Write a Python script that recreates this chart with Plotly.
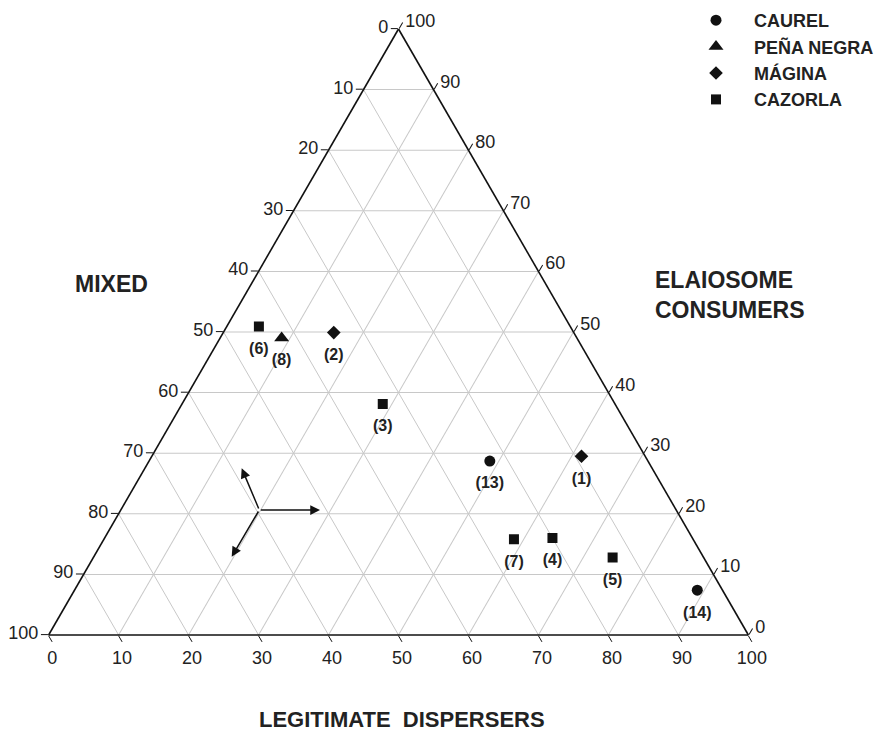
import plotly.graph_objects as go

# ---------------- data (percentages) ----------------
series_names = ["CAUREL", "PEÑA NEGRA", "MÁGINA", "CAZORLA"]

caurel_ids = ["(13)", "(14)"]
caurel_legitimate = [48.7, 89.0]
caurel_elaiosome = [28.7, 7.4]
caurel_mixed = [22.6, 3.6]

pena_ids = ["(8)"]
pena_legitimate = [8.8]
pena_elaiosome = [49.0]
pena_mixed = [42.2]

magina_ids = ["(1)", "(2)"]
magina_legitimate = [61.4, 15.8]
magina_elaiosome = [29.5, 49.9]
magina_mixed = [9.1, 34.3]

cazorla_ids = ["(3)", "(4)", "(5)", "(6)", "(7)"]
cazorla_legitimate = [28.7, 64.0, 74.2, 4.6, 58.6]
cazorla_elaiosome = [38.1, 16.0, 12.8, 50.9, 15.8]
cazorla_mixed = [33.2, 20.0, 13.0, 44.5, 25.6]

tick_values = [0, 10, 20, 30, 40, 50, 60, 70, 80, 90, 100]
tick_labels = ["100", "90", "80", "70", "60", "50", "40", "30", "20", "10", "0"]

# ---------------- styling ----------------
FONT = "Liberation Sans, Arial, sans-serif"
symbols = {"CAUREL": ("circle", 11), "PEÑA NEGRA": ("triangle-up", 13),
           "MÁGINA": ("diamond", 10.5), "CAZORLA": ("square", 10)}

groups = [
    ("CAUREL", caurel_ids, caurel_legitimate, caurel_elaiosome, caurel_mixed),
    ("PEÑA NEGRA", pena_ids, pena_legitimate, pena_elaiosome, pena_mixed),
    ("MÁGINA", magina_ids, magina_legitimate, magina_elaiosome, magina_mixed),
    ("CAZORLA", cazorla_ids, cazorla_legitimate, cazorla_elaiosome, cazorla_mixed),
]

fig = go.Figure()

all_ids, all_l, all_e, all_m = [], [], [], []
for name, ids, leg, ela, mix in groups:
    sym, size = symbols[name]
    # a = elaiosome (top), b = mixed (bottom-left), c = legitimate (bottom-right)
    fig.add_trace(go.Scatterternary(
        a=ela, b=mix, c=leg, mode="markers", name=name,
        marker=dict(symbol=sym, size=size, color="#111111", line=dict(width=0)),
        hovertext=ids,
    ))
    all_ids += ids
    all_l += leg
    all_e += ela
    all_m += mix

# point labels placed under the markers
fig.add_trace(go.Scatterternary(
    a=all_e, b=all_m, c=all_l, mode="markers+text", text=all_ids,
    textposition="bottom center",
    textfont=dict(family=FONT, size=16, color="#222222", weight="bold"),
    marker=dict(size=23, color="rgba(0,0,0,0)"),
    showlegend=False, hoverinfo="skip",
))


def axis_style():
    return dict(
        title=dict(text=""),
        min=0,
        tickmode="array", tickvals=tick_values, ticktext=tick_labels,
        tickfont=dict(family=FONT, size=18, color="#222222"),
        ticks="outside", ticklen=7, tickwidth=1.2, tickcolor="#111111",
        showline=True, linecolor="#111111", linewidth=1.6,
        showgrid=True, gridcolor="#c8c8c8", gridwidth=1.2,
    )


W, H = 886, 732
OFF = 8  # page body margin of the html document


def px(x):
    return (x - OFF) / W


def py(y):
    return 1 - (y - OFF) / H


tri_left, tri_right, tri_top, tri_bottom = 48.5, 748.5, 29, 635

fig.update_layout(
    width=W, height=H,
    margin=dict(l=0, r=0, t=0, b=0, autoexpand=False),
    paper_bgcolor="white",
    ternary=dict(
        sum=100,
        bgcolor="white",
        domain=dict(x=[px(tri_left), px(tri_right)],
                    y=[py(tri_bottom), py(tri_top)]),
        aaxis=axis_style(), baxis=axis_style(), caxis=axis_style(),
    ),
    showlegend=True,
    legend=dict(
        x=px(678), y=py(2), xanchor="left", yanchor="top",
        itemwidth=66, bgcolor="rgba(0,0,0,0)",
        font=dict(family=FONT, size=18, color="#222222", weight="bold"),
    ),
    font=dict(family=FONT),
)

title_font = dict(family=FONT, size=22, color="#222222", weight="bold")
fig.add_annotation(text="MIXED", x=px(111), y=py(284), xref="paper", yref="paper",
                   xanchor="center", yanchor="middle", showarrow=False,
                   font=dict(title_font, size=23))
fig.add_annotation(text="ELAIOSOME<br>CONSUMERS", x=px(653), y=py(295),
                   xref="paper", yref="paper", xanchor="left", yanchor="middle",
                   align="left", showarrow=False, font=dict(title_font, size=23))
fig.add_annotation(text="LEGITIMATE\u00a0\u00a0DISPERSERS", x=px(402), y=py(719),
                   xref="paper", yref="paper", xanchor="center", yanchor="middle",
                   showarrow=False, font=title_font)

# direction arrows (decoration)
cx, cy = 259.3, 510
for tx, ty in [(241.7, 468.3), (320, 510), (231.7, 556.7)]:
    fig.add_annotation(x=px(tx), y=py(ty), xref="paper", yref="paper",
                       ax=cx - tx, ay=cy - ty, axref="pixel", ayref="pixel",
                       text="", showarrow=True, arrowhead=2, arrowsize=1.3,
                       arrowwidth=1.5, arrowcolor="#111111")

fig.write_html("out.html")
